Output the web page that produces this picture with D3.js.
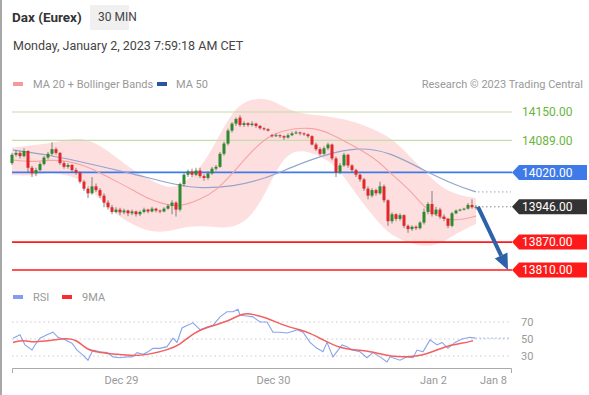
<!DOCTYPE html>
<html>
<head>
<meta charset="utf-8">
<script src="https://cdn.jsdelivr.net/npm/d3@7"></script>
<style>
  body { margin: 0; background: #fff; font-family: Roboto, "Noto Sans", sans-serif; }
  .lbl { font-size: 11px; fill: #999; }
  .xaxis path { stroke: #aaa; }
  .xaxis text { fill: #999; font-size: 11px; font-family: Roboto, sans-serif; }
</style>
</head>
<body>
<script>
// 30 min candles, [open, high, low, close]
var ohlc = [
 [14040,14062,14036,14058],[14058,14068,14054,14062],[14062,14066,14050,14055],[14055,14072,14052,14066],
 [14066,14068,14020,14030],[14030,14034,14010,14018],[14018,14030,14012,14025],[14025,14042,14022,14038],
 [14038,14055,14035,14052],[14052,14064,14048,14060],[14060,14085,14056,14070],[14070,14074,14058,14062],
 [14062,14064,14036,14040],[14040,14044,14028,14032],[14032,14040,14028,14036],[14036,14038,14020,14025],
 [14025,14030,14015,14020],[14020,14022,13996,14000],[14000,14004,13980,13985],[13985,13990,13965,13975],
 [13975,14010,13972,13990],[13990,13996,13978,13982],[13982,13986,13965,13970],[13970,13975,13945,13955],
 [13955,13960,13940,13945],[13945,13950,13930,13935],[13935,13945,13932,13940],[13940,13944,13928,13934],
 [13934,13942,13930,13938],[13938,13940,13926,13932],[13932,13940,13928,13936],[13936,13938,13925,13930],
 [13930,13938,13926,13935],[13935,13944,13932,13940],[13940,13942,13932,13936],[13936,13946,13934,13942],
 [13942,13944,13934,13938],[13938,13940,13932,13936],[13936,13945,13934,13942],[13942,13952,13940,13948],
 [13948,13960,13930,13955],[13955,13958,13925,13940],[13940,13998,13936,13995],[13995,14018,13990,14015],
 [14015,14026,14010,14022],[14022,14028,14010,14015],[14015,14030,14012,14024],[14024,14030,14008,14012],
 [14012,14016,14002,14008],[14008,14022,14004,14018],[14018,14032,14015,14028],[14028,14036,14024,14032],
 [14032,14064,14030,14060],[14060,14086,14056,14082],[14082,14114,14078,14110],[14110,14128,14106,14125],
 [14125,14138,14120,14135],[14138,14143,14118,14122],[14122,14130,14118,14126],[14126,14128,14118,14122],
 [14122,14130,14119,14125],[14125,14127,14116,14120],[14120,14122,14112,14115],[14115,14117,14110,14113],
 [14113,14115,14108,14110],[14100,14103,14095,14098],[14098,14104,14096,14100],[14100,14102,14094,14098],
 [14098,14100,14090,14095],[14095,14104,14093,14100],[14100,14108,14098,14104],[14104,14110,14102,14106],
 [14106,14108,14100,14104],[14104,14106,14099,14102],[14102,14104,14094,14098],[14098,14100,14078,14080],
 [14080,14084,14066,14070],[14070,14074,14056,14060],[14060,14076,14058,14072],[14072,14084,14068,14080],
 [14080,14082,14046,14050],[14050,14054,14010,14020],[14020,14040,14016,14035],[14035,14062,14032,14058],
 [14058,14060,14030,14035],[14035,14038,14020,14025],[14025,14028,14010,14015],[14015,14018,14000,14005],
 [14005,14008,13980,13985],[13985,13990,13962,13970],[13970,13986,13966,13982],[13982,13985,13970,13975],
 [13975,14000,13972,13990],[13990,13994,13955,13960],[13960,13962,13905,13915],[13915,13934,13910,13930],
 [13930,13932,13915,13920],[13920,13932,13916,13928],[13928,13930,13900,13905],[13905,13908,13890,13898],
 [13898,13906,13894,13903],[13903,13906,13896,13900],[13900,13915,13897,13912],[13912,13942,13908,13935],
 [13935,13956,13930,13952],[13952,13980,13925,13930],[13930,13946,13926,13940],[13940,13944,13920,13925],
 [13925,13930,13915,13920],[13920,13922,13900,13905],[13905,13935,13902,13932],[13932,13940,13930,13938],
 [13938,13942,13936,13940],[13940,13944,13938,13942],[13942,13954,13940,13950],[13950,13962,13942,13945],
 [13945,13950,13940,13946]
];

// [candle index, value]
var ma50 = [[0.25,14068],[9.5,14057],[17.75,14042],[30.25,14017],[42,13991],[47,13986],[55.25,13989],
 [63.75,14008],[69.5,14030],[77.75,14057],[86.25,14075],[94.5,14064],[102.75,14025],[111.25,13991],[116,13978]];
var ma20 = [[0,14047],[5,14042],[9.5,14047],[13.75,14045],[17.75,14036],[22,14019],[26.25,14000],[30.25,13982],
 [34.5,13961],[38.75,13950],[42,13946],[47,13961],[51.25,13982],[55.25,14019],[59.5,14062],[63.75,14096],
 [67.75,14111],[74.5,14118],[79.5,14105],[86.25,14073],[91.25,14047],[94.5,14019],[99.5,13982],[103.25,13943],
 [107,13922],[110.75,13915],[116,13926]];
var bbUpper = [[0,14073],[5,14079],[9.5,14083],[13.75,14090],[17.75,14094],[22,14079],[26.25,14051],[30.25,14025],
 [34.5,14004],[38.75,13986],[42,13991],[47,14025],[51.25,14090],[55.25,14154],[58.75,14176],[63.75,14182],
 [68.25,14159],[72,14146],[79.5,14141],[86.25,14128],[90.75,14111],[94.5,14096],[98.75,14062],[102.75,14025],
 [107,13989],[111.5,13971],[116,13965]];
var bbLower = [[0,14014],[5,14012],[9.5,14021],[13.75,14014],[17.75,14004],[22,13961],[26.25,13928],[30.25,13907],
 [34.5,13892],[38.75,13892],[42,13900],[47,13907],[55.25,13896],[60.25,13928],[63.75,13982],[67.75,14053],
 [72,14073],[79.5,14047],[83.25,14008],[87,13961],[92,13907],[95.75,13879],[102,13860],[107,13864],
 [111.25,13890],[116,13909]];

var rsi = [[0.25,51],[2,55],[3.25,43],[5,37],[5.75,43],[7,51],[8.75,55],[10.25,58],[11.5,52],[13.25,49],[15,45],
 [16.25,37],[17.75,31],[19,25],[20.25,37],[22,35],[23.75,34],[25.25,29],[27,28],[28.75,29],[30,29],[31.25,34],
 [32.75,32],[34,35],[35.25,39],[37,39],[38.75,41],[40.25,51],[41.25,46],[42.5,63],[43.75,66],[45.25,69],[47,61],
 [48.75,64],[50.25,66],[52,76],[53.75,82],[55.25,82],[56.5,85],[57,78],[58.75,77],[60.25,76],[62,70],[63.75,70],
 [65.25,58],[67,58],[68.75,57],[70.25,59],[71.25,61],[72.75,58],[74.5,46],[76.25,39],[77.75,35],[78.75,46],
 [80.25,29],[82.5,43],[83.75,41],[85,37],[87,35],[88.75,28],[90.25,34],[92,29],[93.75,23],[94.5,29],[97,25],
 [98.75,29],[100.25,28],[101.25,37],[102.75,35],[104.5,49],[106.25,43],[107.5,46],[109,39],[110.75,46],
 [112.5,50],[114.5,52],[115.75,51]];
var rsiMa = [[0.25,46],[2.75,49],[5.25,46],[9.5,48],[13.75,51],[16.25,49],[18.75,37],[22,34],[26.25,32],[30.25,30],
 [34.5,32],[38.75,37],[42,43],[45.25,57],[48.75,64],[53.75,70],[57.75,81],[60.25,79],[63.75,75],[67.75,66],
 [72,61],[74.5,57],[77.75,49],[82,39],[86.25,37],[90.25,35],[94.5,29],[100.25,29],[102.75,31],[106.25,37],
 [109.5,43],[112.75,45],[115.25,48]];

var levels = [14150, 14089, 14020, 13946, 13870, 13810];
var rsiTicks = [70, 50, 30];
var xTickIdx = [27.25, 65.25, 105.25, 120.25];
var xTickLabels = ["Dec 29", "Dec 30", "Jan 2", "Jan 8"];

var W = 589, H = 395;
var svg = d3.select("body").append("svg").attr("width", W).attr("height", H);

var x = d3.scaleLinear().domain([0, 124.75]).range([12, 511]);
var y = d3.scaleLinear().domain([13810, 14150]).range([270, 112]);
var yr = d3.scaleLinear().domain([30, 70]).range([356, 322]);

// left frame edge
svg.append("rect").attr("x", 0).attr("y", 0).attr("width", 2).attr("height", H).attr("fill", "#a8a8a8");

// header
svg.append("text").attr("x", 12).attr("y", 22).style("font-size", "13.5px").style("font-weight", "bold")
  .attr("fill", "#333").text("Dax (Eurex)");
svg.append("rect").attr("x", 90).attr("y", 5).attr("width", 39).attr("height", 25).attr("fill", "#f0f0f0");
svg.append("text").attr("x", 98).attr("y", 21).style("font-size", "12px").attr("fill", "#444").text("30 MIN");
svg.append("text").attr("x", 13).attr("y", 50).style("font-size", "12.5px").attr("fill", "#444")
  .text("Monday, January 2, 2023 7:59:18 AM CET");

// legend
svg.append("rect").attr("x", 13).attr("y", 82).attr("width", 10).attr("height", 4).attr("fill", "#f59a9a");
svg.append("text").attr("class", "lbl").attr("x", 33).attr("y", 88).text("MA 20 + Bollinger Bands");
svg.append("rect").attr("x", 157).attr("y", 82).attr("width", 10).attr("height", 4).attr("fill", "#2a55a0");
svg.append("text").attr("class", "lbl").attr("x", 176).attr("y", 88).text("MA 50");
svg.append("text").attr("class", "lbl").attr("x", 583).attr("y", 88).attr("text-anchor", "end")
  .text("Research \u00a9 2023 Trading Central");

// bollinger band
var band = bbUpper.map(function(d, i) { return d; });
var area = d3.area().curve(d3.curveBasis)
  .x(function(d) { return x(d[0]); })
  .y0(function(d) { return y(d[1]); })
  .y1(function(d) { return y(d[2]); });
// build area from two series sharing the same x range
var upperFn = d3.scaleLinear().domain(bbUpper.map(function(d){return d[0];})).range(bbUpper.map(function(d){return d[1];}));
var lowerPts = bbLower;
var bandPath = d3.line().curve(d3.curveBasis).x(function(d){return x(d[0]);}).y(function(d){return y(d[1]);});
var bandPoly = bbUpper.concat(bbLower.slice().reverse());
svg.append("path")
  .attr("d", bandPath(bbUpper) + "L" + bandPath(bbLower.slice().reverse()).slice(1) + "Z")
  .attr("fill", "#fddcdc").attr("opacity", 0.9);

var line = d3.line().curve(d3.curveBasis).x(function(d){return x(d[0]);}).y(function(d){return y(d[1]);});

// level lines
var levelColor = ["#c3dea6", "#c3dea6", "#3f7be8", "#999", "#ff1a1a", "#ff1a1a"];
levels.forEach(function(v, i) {
  if (i === 3) return;
  svg.append("line").attr("x1", 12).attr("x2", 512).attr("y1", y(v)).attr("y2", y(v))
    .attr("stroke", levelColor[i]).attr("stroke-width", i < 2 ? 1.2 : 1.6);
});

svg.append("path").attr("d", line(ma50)).attr("fill", "none").attr("stroke", "#94a4cc").attr("stroke-width", 1.2);
svg.append("path").attr("d", line(ma20)).attr("fill", "none").attr("stroke", "#f7a4a4").attr("stroke-width", 1.1);

// candles
var cw = 3;
var c = svg.append("g").selectAll("g").data(ohlc).enter().append("g");
c.append("line")
  .attr("x1", function(d, i){ return x(i); }).attr("x2", function(d, i){ return x(i); })
  .attr("y1", function(d){ return y(d[1]); }).attr("y2", function(d){ return y(d[2]); })
  .attr("stroke", "#666").attr("stroke-width", 0.8);
c.append("rect")
  .attr("x", function(d, i){ return x(i) - cw / 2; })
  .attr("y", function(d){ return y(Math.max(d[0], d[3])); })
  .attr("width", cw)
  .attr("height", function(d){ return Math.max(1, Math.abs(y(d[0]) - y(d[3]))); })
  .attr("fill", function(d){ return d[3] >= d[0] ? "#2f8a2f" : "#e3262a"; });

// dotted extensions
var last = ohlc[ohlc.length - 1][3];
svg.append("line").attr("x1", x(ohlc.length - 1) + 2).attr("x2", 511).attr("y1", y(last)).attr("y2", y(last))
  .attr("stroke", "#888").attr("stroke-dasharray", "1.5,2.5");
var ma50Last = ma50[ma50.length - 1][1];
svg.append("line").attr("x1", x(ohlc.length - 1) + 2).attr("x2", 511).attr("y1", y(ma50Last)).attr("y2", y(ma50Last))
  .attr("stroke", "#94a4cc").attr("stroke-dasharray", "1.5,2.5");

// price tags
var tagFill = [null, null, "#3f7be8", "#333", "#ff1a1a", "#ff1a1a"];
levels.forEach(function(v, i) {
  var yy = y(v);
  if (tagFill[i]) {
    svg.append("path")
      .attr("d", "M512," + yy + "L519," + (yy - 7.5) + "L587," + (yy - 7.5) + "L587," + (yy + 7.5) + "L519," + (yy + 7.5) + "Z")
      .attr("fill", tagFill[i]);
  }
  svg.append("text").attr("x", 522).attr("y", yy + 4.3).style("font-size", "12px")
    .attr("fill", tagFill[i] ? "#fff" : "#6ab53c").text(d3.format(".2f")(v));
});

// arrow to target
var ax0 = x(ohlc.length - 1) + 2, ay0 = y(last), ax1 = 508, ay1 = y(levels[5]);
var dx = ax1 - ax0, dy = ay1 - ay0, len = Math.sqrt(dx * dx + dy * dy);
var ux = dx / len, uy = dy / len, bx = ax1 - 16 * ux, by = ay1 - 16 * uy;
svg.append("line").attr("x1", ax0).attr("y1", ay0).attr("x2", bx).attr("y2", by)
  .attr("stroke", "#2d62aa").attr("stroke-width", 4);
svg.append("path")
  .attr("d", "M" + ax1 + "," + ay1 + "L" + (bx - 7 * uy) + "," + (by + 7 * ux) + "L" + (bx + 7 * uy) + "," + (by - 7 * ux) + "Z")
  .attr("fill", "#2d62aa");

// RSI panel
svg.append("rect").attr("x", 13).attr("y", 295).attr("width", 10).attr("height", 4).attr("fill", "#7f9ef2");
svg.append("text").attr("class", "lbl").attr("x", 33).attr("y", 301).text("RSI");
svg.append("rect").attr("x", 62).attr("y", 295).attr("width", 10).attr("height", 4).attr("fill", "#ff2a2a");
svg.append("text").attr("class", "lbl").attr("x", 82).attr("y", 301).text("9MA");

rsiTicks.forEach(function(t) {
  svg.append("line").attr("x1", 12).attr("x2", 510).attr("y1", yr(t)).attr("y2", yr(t))
    .attr("stroke", "#ccc").attr("stroke-dasharray", "1.5,3");
  svg.append("text").attr("class", "lbl").attr("x", 521).attr("y", yr(t) + 4).text(t);
});

var rline = d3.line().curve(d3.curveLinear).x(function(d){return x(d[0]);}).y(function(d){return yr(d[1]);});
svg.append("path").attr("d", rline(rsi)).attr("fill", "none").attr("stroke", "#86a4ef").attr("stroke-width", 1.1);
var rsiLast = rsi[rsi.length - 1];
svg.append("line").attr("x1", x(rsiLast[0])).attr("x2", 510).attr("y1", yr(rsiLast[1])).attr("y2", yr(rsiLast[1]))
  .attr("stroke", "#a9bdf2").attr("stroke-dasharray", "2,2");
svg.append("path").attr("d", d3.line().curve(d3.curveBasis).x(function(d){return x(d[0]);}).y(function(d){return yr(d[1]);})(rsiMa))
  .attr("fill", "none").attr("stroke", "#f26060").attr("stroke-width", 1.5);

// time axis
svg.append("g").attr("class", "xaxis").attr("transform", "translate(0,368)")
  .call(d3.axisBottom(x).tickValues(xTickIdx).tickSizeInner(0).tickSizeOuter(5).tickPadding(8)
    .tickFormat(function(d, i){ return xTickLabels[i]; }));
</script>
</body>
</html>
